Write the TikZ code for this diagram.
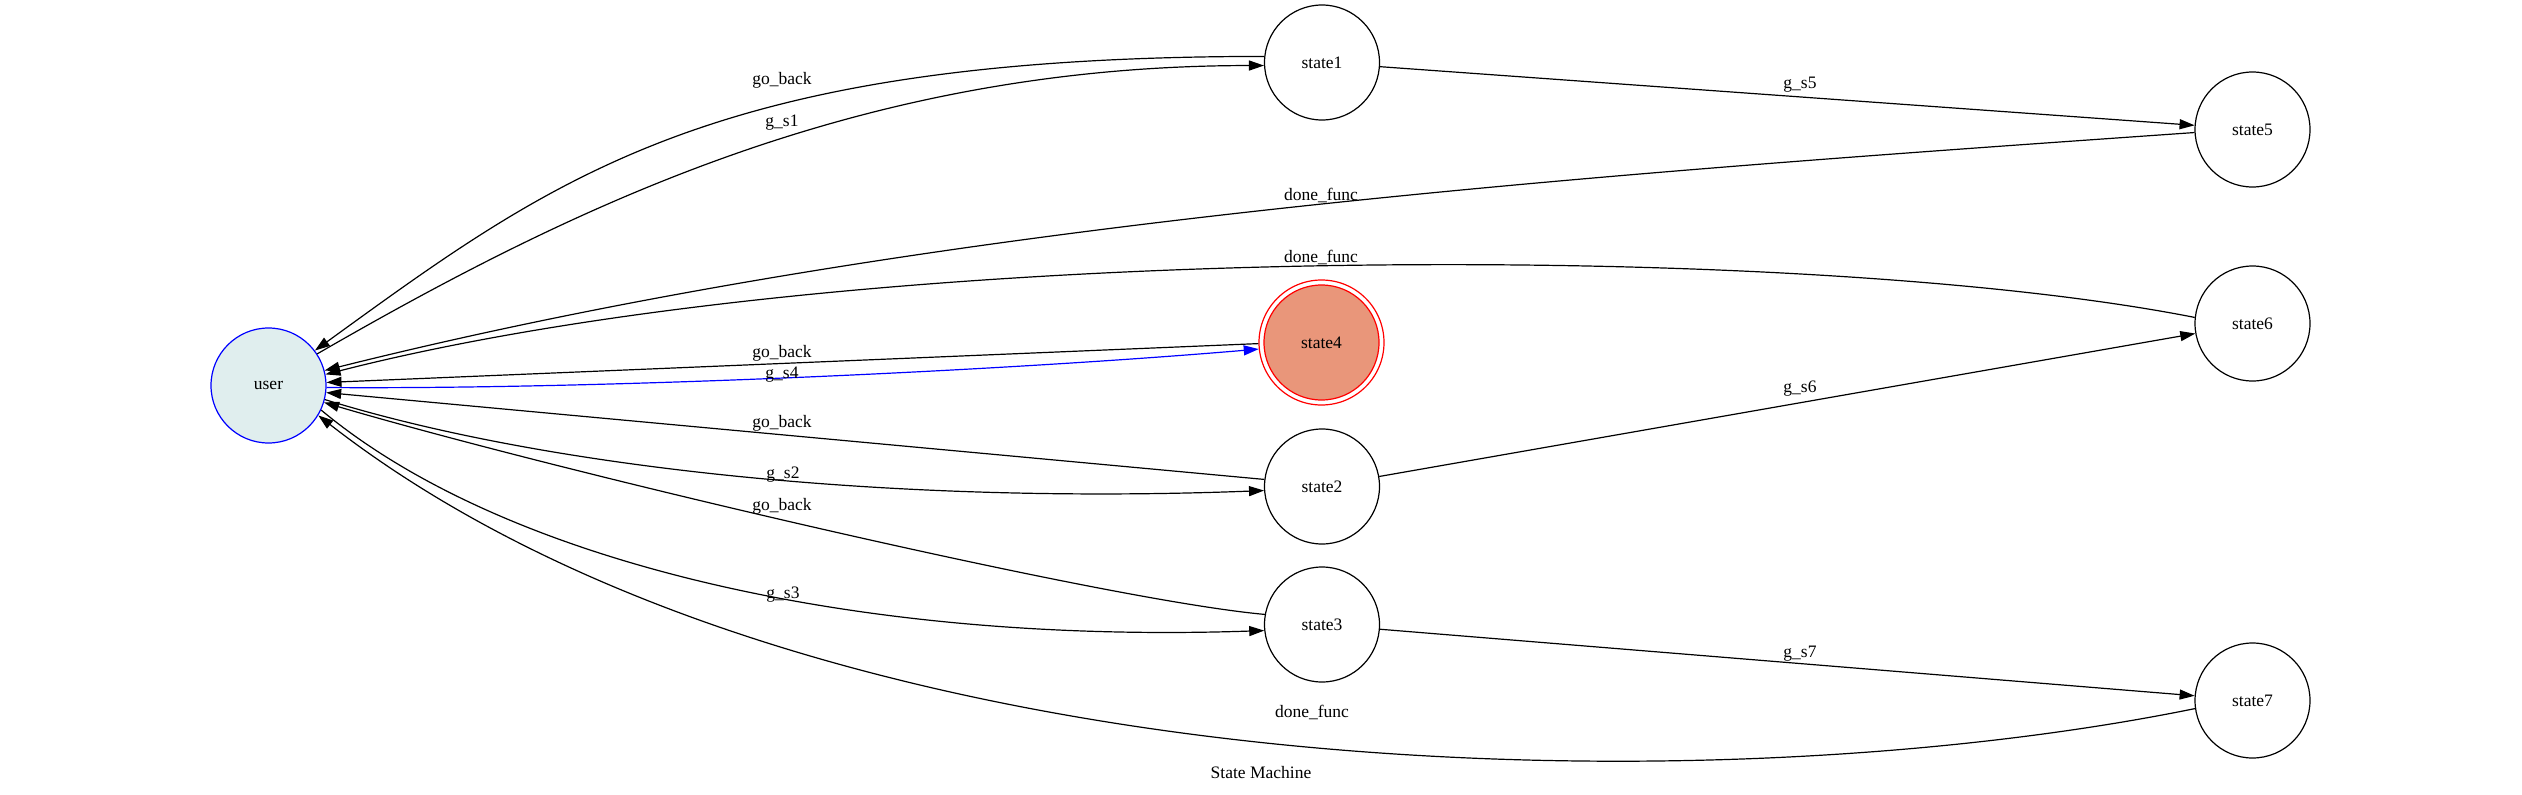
\documentclass[tikz,border=0pt]{standalone}
\usepackage{fontspec}
\setmainfont{Liberation Serif}
\usetikzlibrary{arrows.meta}
\definecolor{usercol}{HTML}{E0EEEE}
\definecolor{salmon}{HTML}{E9967A}
\begin{document}
\begin{tikzpicture}[x=1pt,y=-1pt,
  every node/.style={font=\fontsize{17.5}{20}\selectfont},
  st/.style={circle,draw=black,line width=1.2pt,minimum size=115pt,inner sep=0pt},
  edge/.style={line width=1.2pt,-{Triangle[length=15pt,width=10pt]}},
  lbl/.style={inner sep=0pt}]
\useasboundingbox (0,0) rectangle (2522,795);
\node[st,draw=blue,fill=usercol] (user) at (268.5,385.5) {user};
\node[st] (s1) at (1322,62.5) {state1};
\node[st,draw=red,fill=salmon] (s4) at (1321.5,342.5) {state4};
\node[circle,draw=red,line width=1.2pt,minimum size=125pt,inner sep=0pt] (s4o) at (1321.5,342.5) {};
\node[st] (s2) at (1322,486.5) {state2};
\node[st] (s3) at (1322,624.5) {state3};
\node[st] (s5) at (2252.5,129.5) {state5};
\node[st] (s6) at (2252.5,323.5) {state6};
\node[st] (s7) at (2252.5,700.5) {state7};
% edges
\draw[edge] (s1.174.5) .. controls +(-550,0) and +(243,-176) .. (user.37);
\draw[edge] (user.33) .. controls +(260,-150) and +(-400,0) .. (s1.183.5);
\draw[edge] (s1) -- (s5);
\draw[edge] (s5.183.5) .. controls +(-600,42) and +(600,-150) .. (user.15);
\draw[edge] (s6.174.5) .. controls +(-395,-78) and +(524,-134) .. (user.11.5);
\draw[edge] (s4o.181.4) -- (user.3.5);
\draw[edge,blue] (user.-2.5) .. controls +(274,2) and +(-259,22) .. (s4o.186.8);
\draw[edge] (s2.173.5) -- (user.-7.5);
\draw[edge] (user.-14.6) .. controls +(226,70) and +(-365,14) .. (s2.184.5);
\draw[edge] (s2) -- (s6);
\draw[edge] (s3.170.5) .. controls +(-165,-15) and +(227,67) .. (user.-17.8);
\draw[edge] (user.-25) .. controls +(180,150) and +(-415,14) .. (s3.186.5);
\draw[edge] (s3) -- (s7);
\draw[edge] (s7.188.5) .. controls +(-495,101) and +(482,375) .. (user.-31);
% labels
\node[lbl] (l1) at (782,80) {go\_back};
\node[lbl] (l2) at (782,123) {g\_s1};
\node[lbl] (l3) at (1800,85) {g\_s5};
\node[lbl] (l4) at (1321,195) {done\_func};
\node[lbl] (l5) at (1321,257) {done\_func};
\node[lbl] (l6) at (782,353) {go\_back};
\node[lbl] (l7) at (782,375) {g\_s4};
\node[lbl] (l8) at (782,423) {go\_back};
\node[lbl] (l9) at (783,475) {g\_s2};
\node[lbl] (l10) at (1800,389) {g\_s6};
\node[lbl] (l11) at (782,506) {go\_back};
\node[lbl] (l12) at (783,595) {g\_s3};
\node[lbl] (l13) at (1800,654) {g\_s7};
\node[lbl] (l14) at (1312,712) {done\_func};
\node[lbl] (title) at (1261,773) {State Machine};
\end{tikzpicture}
\end{document}
